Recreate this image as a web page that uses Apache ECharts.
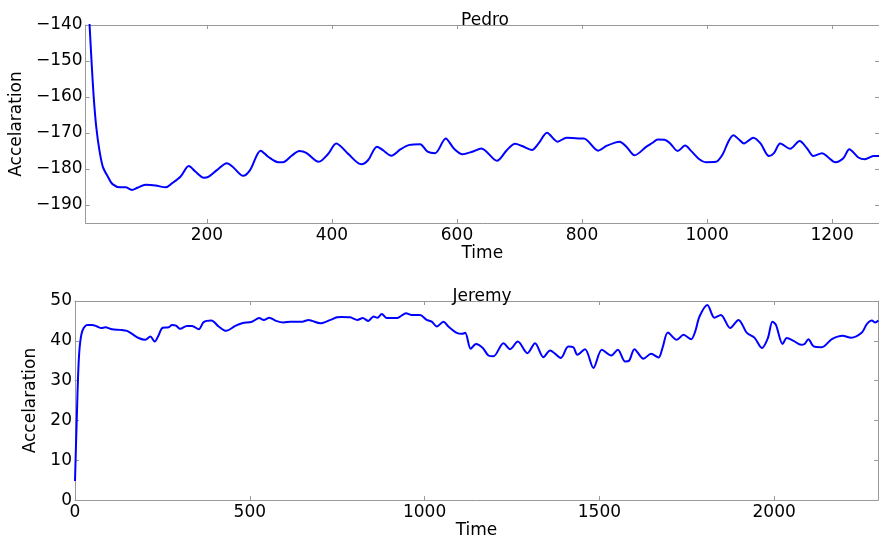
<!DOCTYPE html>
<html>
<head>
<meta charset="utf-8">
<script src="https://cdn.jsdelivr.net/npm/echarts@6/dist/echarts.min.js"></script>
<style>html,body{margin:0;padding:0;background:#fff}#c{width:879px;height:540px}</style>
</head>
<body>
<div id="c"></div>
<script>
var pedroTime = [6,10,13,16,19.3,23,28,33.6,41.5,49,62,70,80,89,102,118,134,144,158,171,181.5,195,203,216,232,242,258,269,286,298,314,322,335,348,359,379,393.5,407,426,447,458,472,481,495,510,524,541,553,565,582,595,609,624.5,639,664,680,693,704,720,730.5,744,761,775.5,794,803,826,839,854,860,871,884,903,913,921,932,941,953,965,974,987.5,998,1014,1025,1034,1042,1051,1059,1074,1085.5,1099,1107,1117,1133,1148,1160,1170,1184,1194,1205,1218,1227.5,1242,1252.5,1266,1275];
var pedroAccel = [-118,-132,-142,-151.6,-160.8,-168.2,-174.7,-179.4,-182.1,-184.2,-185.1,-185.1,-185.8,-185.2,-184.4,-184.6,-185.1,-184.0,-182.1,-179.2,-180.7,-182.4,-182.1,-180.3,-178.4,-179.5,-181.9,-180.3,-174.9,-176.6,-178.1,-178.1,-176.4,-175.0,-175.5,-178.0,-175.9,-172.9,-175.8,-178.7,-177.5,-173.8,-174.7,-176.3,-174.5,-173.3,-173.1,-175.2,-175.6,-171.5,-174.3,-175.9,-175.2,-174.3,-177.7,-174.7,-173.0,-173.6,-174.7,-172.9,-169.9,-172.4,-171.3,-171.5,-171.5,-174.9,-173.6,-172.6,-172.4,-173.8,-176.2,-173.8,-172.7,-171.8,-171.9,-172.9,-175.0,-173.5,-174.9,-177.3,-178.1,-178.0,-175.9,-172.4,-170.6,-171.8,-172.9,-171.3,-172.9,-176.4,-175.6,-172.9,-174.4,-172.2,-174.3,-176.4,-175.6,-176.8,-178.1,-177.0,-174.5,-176.8,-177.3,-176.4,-176.4];

var jeremyTime = [0,2.9,5.7,8.6,12.3,18,24.8,34.3,48.6,63,75,86.7,106,129.6,148.8,163,182,201,215.5,228,237.5,251,268,277.5,289,301,320,334.8,354,368,390,411,432,458.7,478,506,527,540,556,575,597,616,649.5,668.6,678,702,730.5,749.6,762,787,808,823,839,854,865,877.5,892,920,930,947,963,987,1006,1020.6,1035,1054,1068,1092,1106.5,1116,1132,1147,1166.5,1182.6,1197,1225.5,1244.6,1266.6,1294,1316,1340,1359,1389.7,1411,1425.6,1437,1459,1483,1507,1533.6,1552.8,1573.7,1585,1600.4,1626,1648,1669,1680.5,1696,1721.5,1740.6,1762.5,1774,1786.4,1809,1829,1847.5,1874,1898,1922,1943.6,1964.8,1982,1995,2005,2024,2036,2055.5,2077,2087,2098,2113,2136.5,2165,2195.5,2220,2251,2265,2279.5,2289,2298];
var jeremyAccel = [4.8,14,22.3,30.7,37.3,41.5,43.2,44,44,43.6,43.2,43.4,42.9,42.75,42.5,41.75,40.7,40.25,41.1,39.8,41.1,43.3,43.4,44,43.8,43,43.75,43.75,42.9,44.7,45.1,43.6,42.5,43.75,44.4,44.8,45.7,45.25,45.8,45,44.6,44.8,44.8,45.25,45,44.4,45.25,45.9,46,45.9,45.25,45.7,45,46.1,45.8,46.75,45.7,45.7,46.1,46.9,46.5,46.5,45.25,44.8,43.6,44.8,43.6,42,41.75,42,38,39.2,38.2,36.3,36.1,39.4,37.9,39.8,36.9,39.4,35.9,37.6,35.7,38.6,38.4,36.5,37.9,33.2,37.75,36.3,37.75,34.8,35,37.9,35.5,36.75,35.8,38.2,42.1,40.25,41.5,40.4,42.3,46.1,49,45.8,46.5,43.2,45.25,42,40.8,38.2,40.7,44.8,44,39.2,40.7,40,39,39.2,40.4,38.6,38.4,40.4,41.25,40.8,42.1,44.2,45.1,44.6,45.1];

var pedroXTicks = [200,400,600,800,1000,1200];
var pedroYTicks = [-190,-180,-170,-160,-150,-140];
var jeremyXTicks = [0,500,1000,1500,2000];
var jeremyYTicks = [0,10,20,30,40,50];

function zip(a,b){return a.map(function(v,i){return [v,b[i]];});}
var FONT = 'DejaVu Sans';
var SPINE = '#999999';
function fmt(v){return String(v).replace('-', '\u2212');}

function xAx(gi, min, max, ticks, pos, name, showLabel){
  return {
    type:'value', gridIndex:gi, min:min, max:max, position:pos,
    name: name || '', nameLocation:'middle', nameGap:17,
    nameTextStyle:{fontFamily:FONT,fontSize:17,color:'#000'},
    axisLine:{show:true,onZero:false,lineStyle:{color:SPINE,width:1}},
    axisTick:{show:true,inside:true,length:4,customValues:ticks,lineStyle:{color:SPINE}},
    axisLabel:{show:showLabel,customValues:ticks,margin:4,fontFamily:FONT,fontSize:17,color:'#000',formatter:fmt},
    splitLine:{show:false}
  };
}
function yAx(gi, min, max, ticks, pos, name, showLabel, gap){
  return {
    type:'value', gridIndex:gi, min:min, max:max, position:pos,
    name: name || '', nameLocation:'middle', nameGap:gap||0,
    nameTextStyle:{fontFamily:FONT,fontSize:17,color:'#000'},
    axisLine:{show:true,onZero:false,lineStyle:{color:SPINE,width:1}},
    axisTick:{show:true,inside:true,length:4,customValues:ticks,lineStyle:{color:SPINE}},
    axisLabel:{show:showLabel,customValues:ticks,margin:3,fontFamily:FONT,fontSize:17,color:'#000',formatter:fmt},
    splitLine:{show:false}
  };
}

var chart = echarts.init(document.getElementById('c'), null, {renderer:'canvas'});
chart.setOption({
  animation:false,
  backgroundColor:'#fff',
  title:[
    {text:'Pedro', left:480, top:7, textAlign:'center', textStyle:{fontFamily:FONT,fontSize:17,fontWeight:'normal',color:'#000'}},
    {text:'Jeremy', left:477, top:283, textAlign:'center', textStyle:{fontFamily:FONT,fontSize:17,fontWeight:'normal',color:'#000'}}
  ],
  grid:[
    {left:81, top:25, width:798, height:198, containLabel:false},
    {left:75, top:301, width:803, height:200, containLabel:false}
  ],
  xAxis:[
    xAx(0, 6, 1275, pedroXTicks, 'bottom', 'Time', true),
    xAx(0, 6, 1275, pedroXTicks, 'top', '', false),
    xAx(1, 0, 2297, jeremyXTicks, 'bottom', 'Time', true),
    xAx(1, 0, 2297, jeremyXTicks, 'top', '', false)
  ],
  yAxis:[
    yAx(0, -195, -140, pedroYTicks, 'left', 'Accelaration', true, 56),
    yAx(0, -195, -140, pedroYTicks, 'right', '', false),
    yAx(1, 0, 50, jeremyYTicks, 'left', 'Accelaration', true, 30),
    yAx(1, 0, 50, jeremyYTicks, 'right', '', false)
  ],
  series:[
    {type:'line', xAxisIndex:0, yAxisIndex:0, data:zip(pedroTime,pedroAccel), showSymbol:false, smooth:0.3, clip:true, lineStyle:{color:'#0000ff',width:2}},
    {type:'line', xAxisIndex:2, yAxisIndex:2, data:zip(jeremyTime,jeremyAccel), showSymbol:false, smooth:0.3, clip:true, lineStyle:{color:'#0000ff',width:2}}
  ]
});
</script>
</body>
</html>
